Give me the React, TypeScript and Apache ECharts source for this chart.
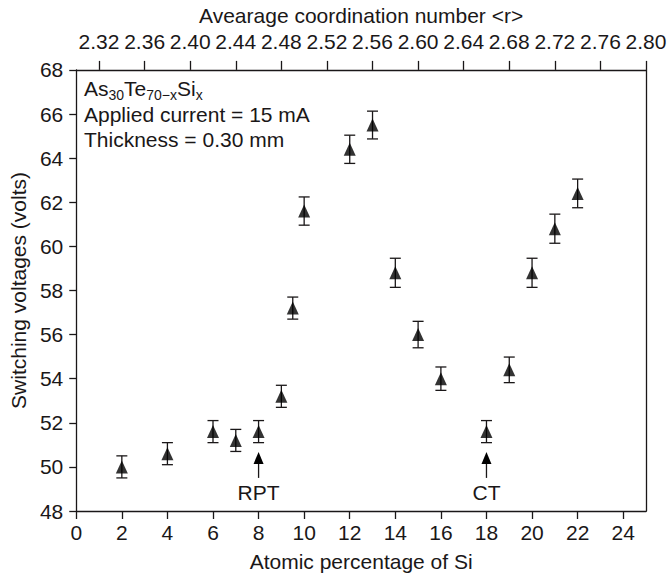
import React, { useEffect, useRef } from "react";
import * as echarts from "echarts";

// Atomic percentage of Si (x) and switching voltage (volts) with error half-widths
const siPercent = [2, 4, 6, 7, 8, 9, 9.5, 10, 12, 13, 14, 15, 16, 18, 19, 20, 21, 22];
const switchingVoltage = [50.0, 50.6, 51.6, 51.2, 51.6, 53.2, 57.2, 61.6, 64.4, 65.5, 58.8, 56.0, 54.0, 51.6, 54.4, 58.8, 60.8, 62.4];
const voltageError = [0.5, 0.5, 0.5, 0.5, 0.5, 0.5, 0.5, 0.64, 0.64, 0.63, 0.66, 0.6, 0.53, 0.5, 0.58, 0.66, 0.66, 0.65];

// Arrows marking RPT and CT
const arrowSi = [8, 18];
const arrowTail = [49.5, 49.5];
const arrowTip = [50.68, 50.68];
const arrowLabels = ["RPT", "CT"];

// Tick labels
const bottomTicks = [0, 2, 4, 6, 8, 10, 12, 14, 16, 18, 20, 22, 24];
const topTicks = [2.32, 2.36, 2.4, 2.44, 2.48, 2.52, 2.56, 2.6, 2.64, 2.68, 2.72, 2.76, 2.8];

export default function App() {
  const ref = useRef<HTMLDivElement>(null);

  useEffect(() => {
    document.body.style.margin = "0";
    const chart = echarts.init(ref.current!, null, { renderer: "svg" });
    const font = "'Liberation Sans', Arial, Helvetica, sans-serif";
    const ink = "#1a1718";
    const fs = 21;
    const lineW = 1.3;

    const errData = siPercent.map((x, i) => [x, switchingVoltage[i] - voltageError[i], switchingVoltage[i] + voltageError[i]]);
    const ptData = siPercent.map((x, i) => [x, switchingVoltage[i]]);
    const arrowData = arrowSi.map((x, i) => [x, arrowTail[i], arrowTip[i]]);

    const option: any = {
      animation: false,
      backgroundColor: "#ffffff",
      textStyle: { fontFamily: font, color: ink },
      title: {
        left: 84,
        top: 76,
        padding: 0,
        text:
          "{n|As}{s|30}{n|Te}{s|70\u2212x}{n|Si}{s|x}\n{n|Applied current = 15 mA}\n{n|Thickness = 0.30 mm}",
        textStyle: {
          fontFamily: font,
          color: ink,
          fontSize: fs,
          fontWeight: "normal",
          rich: {
            n: { fontFamily: font, fontSize: fs, color: ink, lineHeight: 25.5 },
            s: { fontFamily: font, fontSize: 14, color: ink, lineHeight: 6, verticalAlign: "bottom" },
          },
        },
      },
      grid: { left: 73, top: 68, width: 573, height: 443, containLabel: false },
      xAxis: [
        {
          type: "value",
          position: "bottom",
          min: 0,
          max: 25,
          interval: 2,
          name: "Atomic percentage of Si",
          nameLocation: "middle",
          nameGap: 40,
          nameTextStyle: { fontSize: fs, color: ink, fontFamily: font },
          axisLine: { show: true, onZero: false, lineStyle: { color: ink, width: lineW } },
          axisTick: { show: true, inside: false, length: 8, customValues: bottomTicks, lineStyle: { color: ink, width: lineW } },
          axisLabel: { customValues: bottomTicks, fontSize: fs, color: ink, fontFamily: font, margin: 11 },
          splitLine: { show: false },
        },
        {
          type: "value",
          position: "top",
          min: 2.3,
          max: 2.8,
          name: "Avearage coordination number <r>",
          nameLocation: "middle",
          nameGap: 38,
          nameTextStyle: { fontSize: fs, color: ink, fontFamily: font },
          axisLine: { show: true, onZero: false, lineStyle: { color: ink, width: lineW } },
          axisTick: { show: true, inside: false, length: 9, customValues: topTicks, lineStyle: { color: ink, width: lineW } },
          axisLabel: {
            customValues: topTicks,
            fontSize: fs,
            color: ink,
            fontFamily: font,
            margin: 18,
            formatter: (v: number) => v.toFixed(2),
          },
          splitLine: { show: false },
        },
      ],
      yAxis: [
        {
          type: "value",
          position: "left",
          min: 48,
          max: 68,
          interval: 2,
          name: "Switching voltages (volts)",
          nameLocation: "middle",
          nameGap: 46,
          nameTextStyle: { fontSize: fs, color: ink, fontFamily: font },
          axisLine: { show: true, onZero: false, lineStyle: { color: ink, width: lineW } },
          axisTick: { show: true, inside: false, length: 7, lineStyle: { color: ink, width: lineW } },
          axisLabel: { fontSize: fs, color: ink, fontFamily: font, margin: 13 },
          splitLine: { show: false },
        },
        {
          type: "value",
          position: "right",
          min: 48,
          max: 68,
          interval: 2,
          axisLine: { show: true, onZero: false, lineStyle: { color: ink, width: lineW } },
          axisTick: { show: false },
          axisLabel: { show: false },
          splitLine: { show: false },
        },
      ],
      series: [
        {
          type: "custom",
          name: "error",
          xAxisIndex: 0,
          yAxisIndex: 0,
          data: errData,
          encode: { x: 0, y: [1, 2] },
          renderItem: (params: any, api: any) => {
            const x = api.value(0);
            const p1 = api.coord([x, api.value(1)]);
            const p2 = api.coord([x, api.value(2)]);
            const cap = 5.5;
            const st = { stroke: ink, lineWidth: lineW };
            return {
              type: "group",
              children: [
                { type: "line", shape: { x1: p1[0], y1: p1[1], x2: p2[0], y2: p2[1] }, style: st },
                { type: "line", shape: { x1: p1[0] - cap, y1: p1[1], x2: p1[0] + cap, y2: p1[1] }, style: st },
                { type: "line", shape: { x1: p2[0] - cap, y1: p2[1], x2: p2[0] + cap, y2: p2[1] }, style: st },
              ],
            };
          },
          z: 2,
        },
        {
          type: "scatter",
          name: "voltage",
          xAxisIndex: 0,
          yAxisIndex: 0,
          data: ptData,
          symbol: "triangle",
          symbolSize: [12, 13],
          itemStyle: { color: "#000000" },
          z: 3,
        },
        {
          type: "custom",
          name: "arrows",
          xAxisIndex: 0,
          yAxisIndex: 0,
          data: arrowData,
          encode: { x: 0, y: [1, 2] },
          renderItem: (params: any, api: any) => {
            const x = api.value(0);
            const pt = api.coord([x, api.value(1)]);
            const pp = api.coord([x, api.value(2)]);
            const headH = 12;
            const headW = 10;
            const st = { stroke: ink, lineWidth: lineW };
            return {
              type: "group",
              children: [
                { type: "line", shape: { x1: pt[0], y1: pt[1], x2: pp[0], y2: pp[1] + headH - 1 }, style: st },
                {
                  type: "polygon",
                  shape: { points: [[pp[0], pp[1]], [pp[0] - headW / 2, pp[1] + headH], [pp[0] + headW / 2, pp[1] + headH]] },
                  style: { fill: "#000000" },
                },
                {
                  type: "text",
                  x: pt[0],
                  y: pt[1] + 4,
                  style: {
                    text: arrowLabels[params.dataIndex],
                    fill: ink,
                    font: `${fs}px ${font}`,
                    align: "center",
                    verticalAlign: "top",
                  },
                },
              ],
            };
          },
          z: 2,
        },
      ],
    };

    chart.setOption(option);
    return () => chart.dispose();
  }, []);

  return <div ref={ref} style={{ width: 670, height: 577 }} />;
}
